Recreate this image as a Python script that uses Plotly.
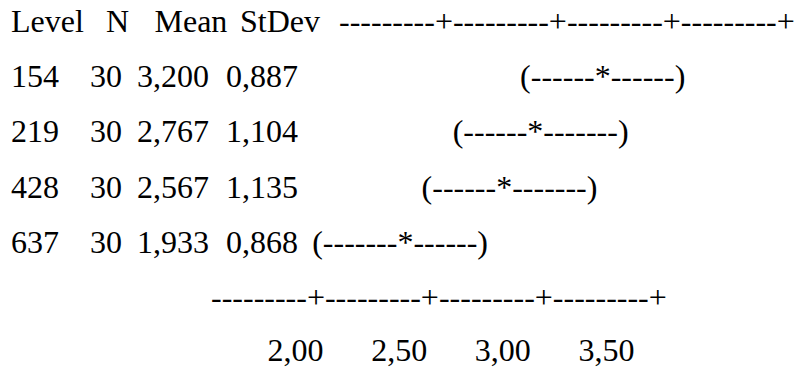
import plotly.graph_objects as go

# ---- data (Minitab one-way ANOVA text output) ----
header = ["Level", "N", "Mean", "StDev"]
levels = ["154", "219", "428", "637"]
n_obs = [30, 30, 30, 30]
means = [3.200, 2.767, 2.567, 1.933]
stdevs = [0.887, 1.104, 1.135, 0.868]
ci_left_dashes = [6, 6, 6, 7]
ci_right_dashes = [6, 7, 7, 6]
scale_ticks = [2.00, 2.50, 3.00, 3.50]
ruler_groups = 4

# ---- styling / layout ----
W, H = 795, 370
FONT = dict(family="Liberation Serif, Times New Roman, serif", size=32, color="black")
DASH_SPACE = "\u2004"   # three-per-em space = width of one "-"

ROW_TOP = 23.8   # pixel position of first row anchor
ROW_STEP = 55.3  # pixel distance between rows


def fmt(v, d):
    return f"{v:.{d}f}".replace(".", ",")


def ci_text(nl, nr):
    # pad the shorter arm with invisible dash-wide spaces so "*" sits at the centre
    longest = max(nl, nr)
    return (DASH_SPACE * (longest - nl) + "(" + "-" * nl + "*" + "-" * nr + ")"
            + DASH_SPACE * (longest - nr))


ruler = "---------+" * ruler_groups
n_rows = len(levels)
row_idx = list(range(1, n_rows + 1))
ruler_row = n_rows + 1
tick_row = n_rows + 2 - 3 / ROW_STEP   # keep label descenders inside the page

# column anchors in pixels (layout positions)
COL = dict(level=11, n_head=106, n_val=90, mean_head=154.5, mean_val=137,
           sd_head=240, sd_val=226, ruler_head=339, ruler_foot=211)

fig = go.Figure()


def text_trace(xs, ys, texts, pos, xaxis="x"):
    fig.add_trace(go.Scatter(
        x=xs, y=ys, text=texts, mode="text", textposition=pos,
        textfont=FONT, xaxis=xaxis, yaxis="y", hoverinfo="skip",
        showlegend=False, cliponaxis=False))


# header row
text_trace([COL["level"], COL["n_head"], COL["mean_head"], COL["sd_head"], COL["ruler_head"]],
           [0] * 5, header + [ruler], "middle right")

# data columns
text_trace([COL["level"]] * n_rows, row_idx, levels, "middle right")
text_trace([COL["n_val"]] * n_rows, row_idx, [str(v) for v in n_obs], "middle right")
text_trace([COL["mean_val"]] * n_rows, row_idx, [fmt(v, 3) for v in means], "middle right")
text_trace([COL["sd_val"]] * n_rows, row_idx, [fmt(v, 3) for v in stdevs], "middle right")

# confidence intervals: "*" centred on the mean (mean scale on x2)
text_trace(means, row_idx, [ci_text(l, r) for l, r in zip(ci_left_dashes, ci_right_dashes)],
           "middle center", xaxis="x2")

# bottom ruler and scale labels
text_trace([COL["ruler_foot"]], [ruler_row], [ruler], "middle right")
text_trace(scale_ticks, [tick_row] * len(scale_ticks), [fmt(v, 2) for v in scale_ticks],
           "middle center", xaxis="x3")

# scales (pixel p -> value)
y_range = [(H - ROW_TOP) / ROW_STEP, -ROW_TOP / ROW_STEP]
CI_PX0, CI_PX_PER_UNIT = -0.6710, 155.7       # mean scale used by the CI markers
TK_PX0, TK_PX_PER_UNIT = 0.5745, 207.3        # scale used by the label row

hidden = dict(visible=False, fixedrange=True, showgrid=False, zeroline=False)
fig.update_layout(
    width=W, height=H, autosize=False,
    margin=dict(l=0, r=0, t=0, b=0, pad=0),
    paper_bgcolor="white", plot_bgcolor="white",
    showlegend=False, hovermode=False,
    xaxis=dict(range=[0, W], **hidden),
    xaxis2=dict(range=[CI_PX0, CI_PX0 + W / CI_PX_PER_UNIT], overlaying="x", anchor="y", **hidden),
    xaxis3=dict(range=[TK_PX0, TK_PX0 + W / TK_PX_PER_UNIT], overlaying="x", anchor="y", **hidden),
    yaxis=dict(range=y_range, **hidden),
)

fig.write_html(
    "out.html",
    config={"displayModeBar": False, "staticPlot": True},
    post_script="document.body.style.margin='0';document.body.style.overflow='hidden';",
)
